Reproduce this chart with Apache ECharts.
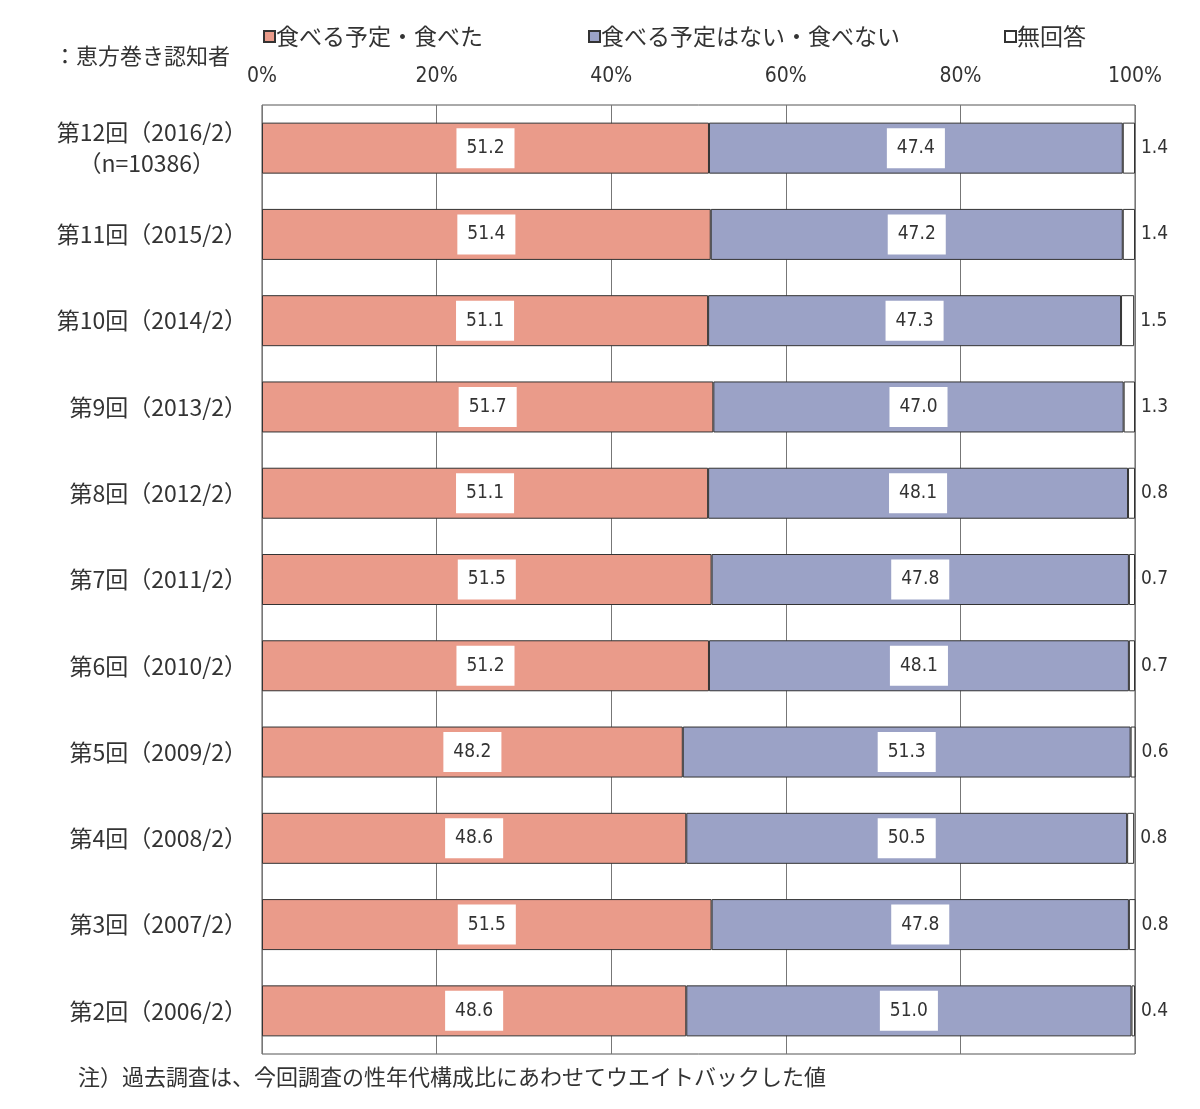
<!DOCTYPE html>
<html>
<head>
<meta charset="utf-8">
<script src="https://cdn.jsdelivr.net/npm/echarts@6/dist/echarts.min.js"></script>
<style>
html, body { margin: 0; padding: 0; background: #fff; }
#chart { width: 1200px; height: 1109px; }
</style>
</head>
<body>
<div id="chart"></div>
<script>
var categories = [
	'第12回（2016/2）', '第11回（2015/2）', '第10回（2014/2）', '第9回（2013/2）',
	'第8回（2012/2）', '第7回（2011/2）', '第6回（2010/2）', '第5回（2009/2）',
	'第4回（2008/2）', '第3回（2007/2）', '第2回（2006/2）'
];
var eat = [51.2, 51.4, 51.1, 51.7, 51.1, 51.5, 51.2, 48.2, 48.6, 51.5, 48.6];
var notEat = [47.4, 47.2, 47.3, 47.0, 48.1, 47.8, 48.1, 51.3, 50.5, 47.8, 51.0];
var noAnswer = [1.4, 1.4, 1.5, 1.3, 0.8, 0.7, 0.7, 0.6, 0.8, 0.8, 0.4];
var seriesNames = ['食べる予定・食べた', '食べる予定はない・食べない', '無回答'];
var xTicks = [0, 20, 40, 60, 80, 100];

var FONT = '"Noto Sans CJK JP", "DejaVu Sans Condensed", sans-serif';
var NUMFONT = '"DejaVu Sans Condensed", "Liberation Sans Narrow", sans-serif';

var chart = echarts.init(document.getElementById('chart'));

var boxLabel = {
	show: true,
	position: 'inside',
	color: '#333',
	fontFamily: NUMFONT,
	fontSize: 19,
	backgroundColor: '#fff',
	padding: [11, 10, 10, 10],
	formatter: function(p){ return p.value.toFixed(1); }
};

// legend entries sit at fixed positions like the original
var legendLeft = [258, 583, 999];
var legends = seriesNames.map(function(name, i){
	return {
		top: 20,
		left: legendLeft[i],
		itemWidth: 11,
		itemHeight: 11,
		icon: 'rect',
		textStyle: { fontFamily: FONT, fontSize: 23, color: '#333', padding: [0, 0, 0, -4] },
		data: [name]
	};
});

var option = {
	animation: false,
	backgroundColor: '#fff',
	color: ['#ea9b8a', '#9ba2c6', '#ffffff'],
	legend: legends,
	grid: {
		left: 262,
		right: 65,
		top: 105,
		bottom: 55,
		show: true,
		borderColor: '#555',
		borderWidth: 1,
		containLabel: false
	},
	xAxis: {
		type: 'value',
		position: 'top',
		min: 0,
		max: 100,
		interval: 20,
		axisLine: { show: false },
		axisTick: { show: false },
		splitLine: { show: true, lineStyle: { color: '#777', width: 1 } },
		axisLabel: {
			margin: 18,
			color: '#333',
			fontFamily: NUMFONT,
			fontSize: 21,
			formatter: function(v){ return xTicks.indexOf(v) >= 0 ? v + '%' : ''; }
		}
	},
	yAxis: {
		type: 'category',
		inverse: true,
		data: categories,
		axisLine: { show: false },
		axisTick: { show: false },
		splitLine: { show: false },
		axisLabel: {
			margin: 15,
			color: '#333',
			fontFamily: FONT,
			fontSize: 23,
			lineHeight: 31,
			formatter: function(v, i){
				if(i === 0) return v + '\n{n|（n=10386）}';
				return v;
			},
			rich: {
				n: { fontFamily: FONT, fontSize: 23, color: '#333', padding: [0, 32, 0, 0] }
			}
		}
	},
	series: [{
		name: seriesNames[0],
		type: 'bar',
		stack: 'all',
		barWidth: 51,
		data: eat,
		itemStyle: { borderColor: '#333', borderWidth: 1 },
		label: boxLabel
	}, {
		name: seriesNames[1],
		type: 'bar',
		stack: 'all',
		barWidth: 51,
		data: notEat,
		itemStyle: { borderColor: '#333', borderWidth: 1 },
		label: boxLabel
	}, {
		name: seriesNames[2],
		type: 'bar',
		stack: 'all',
		barWidth: 51,
		data: noAnswer,
		itemStyle: { color: '#fff', borderColor: '#333', borderWidth: 1 },
		label: {
			show: true,
			position: 'right',
			distance: 6,
			color: '#333',
			fontFamily: NUMFONT,
			fontSize: 19,
			formatter: function(p){ return p.value.toFixed(1); }
		}
	}],
	graphic: [{
		type: 'text',
		left: 54,
		top: 45,
		style: { text: '：恵方巻き認知者', fontFamily: FONT, fontSize: 22, fill: '#333' }
	}, {
		type: 'text',
		left: 78,
		top: 1066,
		style: { text: '注）過去調査は、今回調査の性年代構成比にあわせてウエイトバックした値', fontFamily: FONT, fontSize: 22, fill: '#333' }
	}]
};

chart.setOption(option);
</script>
</body>
</html>
